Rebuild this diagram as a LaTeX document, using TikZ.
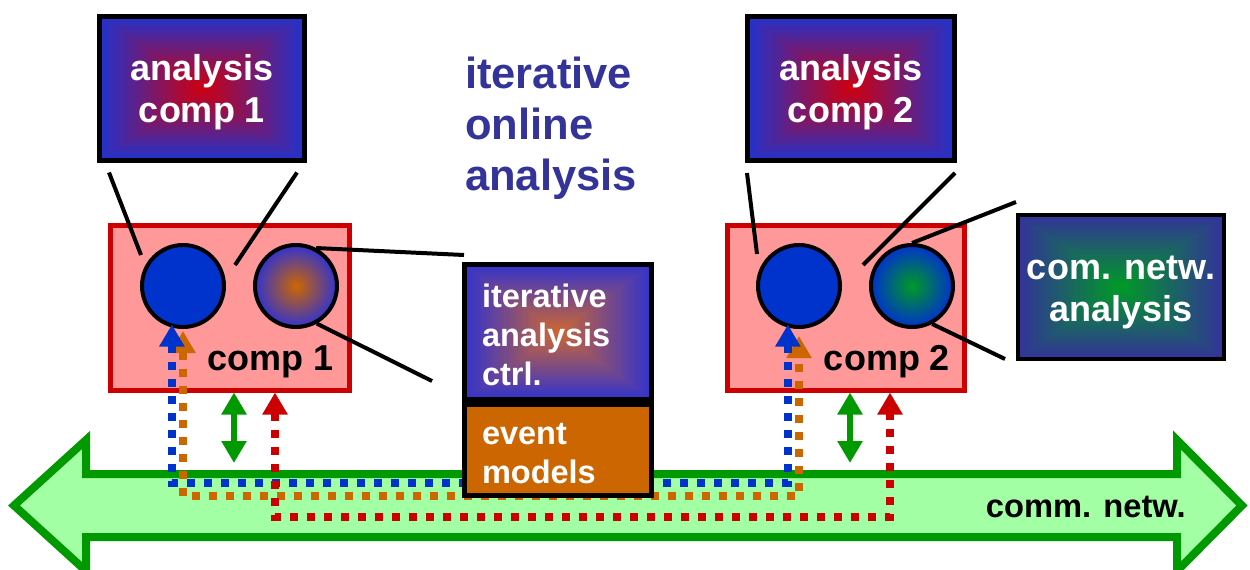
\documentclass[tikz,border=0pt]{standalone}
\usepackage{fontspec}
\setmainfont{Liberation Sans}
\usetikzlibrary{arrows.meta,calc}

\definecolor{netgreen}{HTML}{009900}
\definecolor{netfill}{HTML}{A3FFA3}
\definecolor{compfill}{HTML}{FF9999}
\definecolor{compred}{HTML}{CC0000}
\definecolor{cblue}{HTML}{0033CC}
\definecolor{gblue}{HTML}{2233CC}
\definecolor{gred}{HTML}{CC0011}
\definecolor{ctrlblue}{HTML}{3333CC}
\definecolor{ctrlorange}{HTML}{CC6633}
\definecolor{corange}{HTML}{CC6600}
\definecolor{cgreen}{HTML}{009926}
\definecolor{navy}{HTML}{333399}

% strut that lowers a text block inside its box
\newcommand{\topstrut}[1]{\rule{0pt}{#1}}

\tikzset{
  bigtri/.tip={Triangle[width=24pt,length=22pt]},
  % rectangular gradient: outer colour #1 at the border, inner colour #2 at the centre
  rectgrad/.style 2 args={path picture={
    \foreach \k in {0,...,39}{
      \pgfmathsetmacro\gradS{1-\k/40}
      \pgfmathsetmacro\gradP{100*\k/39}
      \fill[#2!\gradP!#1]
        ($(path picture bounding box.center)!\gradS!(path picture bounding box.south west)$)
        rectangle
        ($(path picture bounding box.center)!\gradS!(path picture bounding box.north east)$);
    }}},
  anbox/.style={draw=black, line width=5pt, text=white, align=center, inner sep=0pt,
    font=\fontsize{36}{42}\selectfont\bfseries},
  ctrlbox/.style={draw=black, line width=5pt, text=white, align=left, inner sep=0pt,
    text width=152pt, minimum width=187pt, font=\fontsize{32.5}{39}\selectfont\bfseries},
  comp/.style={draw=compred, fill=compfill, line width=5pt, inner sep=0pt},
  complbl/.style={font=\fontsize{36}{42}\selectfont\bfseries, text=black, inner sep=0pt},
  unit/.style={circle, draw=black, line width=4pt, minimum size=82pt, inner sep=0pt},
  heading/.style={font=\fontsize{43.5}{51}\selectfont\bfseries, text=navy, align=left, inner sep=0pt},
  zoomline/.style={line width=4pt, black},
  flow/.style={line width=8pt, dash pattern=on 8pt off 9pt, bigtri-bigtri},
  netlink/.style={netgreen, line width=6pt, bigtri-bigtri},
}

\begin{document}
\begin{tikzpicture}[x=1pt,y=-1pt]
\useasboundingbox (0,0) rectangle (1250,570);

% communication network backbone
\draw[netgreen, fill=netfill, line width=8pt, line join=miter, miter limit=10]
  (14,505.5) -- (86,440) -- (86,474) -- (1177,474) -- (1177,440) -- (1242,505.5)
  -- (1177,571) -- (1177,537) -- (86,537) -- (86,571) -- cycle;
\node[font=\fontsize{32.7}{38}\selectfont\bfseries, inner sep=0pt, anchor=base east]
  (netlbl) at (1186,517) {comm. netw.};

% components
\node[comp, minimum width=239pt, minimum height=165pt] (comp1) at (230,307.5) {};
\node[comp, minimum width=237pt, minimum height=165pt] (comp2) at (846,307.5) {};
\node[complbl, anchor=base] (comp1lbl) at (270.5,370) {comp 1};
\node[complbl, anchor=base] (comp2lbl) at (887,370) {comp 2};

\node[unit, fill=cblue] (c1a) at (183,286) {};
\node[unit, inner color=corange, outer color=ctrlblue] (c1b) at (296,286) {};
\node[unit, fill=cblue] (c2a) at (799,286) {};
\node[unit, inner color=cgreen, outer color=cblue] (c2b) at (912,286) {};

% analysis boxes
\node[anbox, rectgrad={gblue}{gred}, minimum width=205pt, minimum height=144pt]
  (an1) at (202,88) {\topstrut{34pt}analysis\\comp 1};
\node[anbox, rectgrad={gblue}{gred}, minimum width=207pt, minimum height=144pt]
  (an2) at (851,88.5) {\topstrut{34pt}analysis\\comp 2};
\node[anbox, line width=4pt, rectgrad={navy}{cgreen}, minimum width=206pt, minimum height=144pt]
  (cna) at (1121,287) {\topstrut{34pt}com. netw.\\analysis};

\node[heading, anchor=west] (title) at (465,128) {iterative\\online\\analysis};

% pointer lines
\coordinate (p1) at (141,255);
\coordinate (p2) at (235,265);
\coordinate (p3) at (464,255);
\coordinate (p4) at (432,381);
\coordinate (q1) at (757,254);
\coordinate (q2) at (863,265);
\coordinate (q3) at (1016,202);
\coordinate (q4) at (1005,359);
\draw[zoomline] ($(an1.south west)+(12,10)$) -- (p1);
\draw[zoomline] ($(an1.south east)+(-10,10)$) -- (p2);
\draw[zoomline] (c1b.62) -- (p3);
\draw[zoomline] (c1b.299) -- (p4);
\draw[zoomline] ($(an2.south west)+(2,10)$) -- (q1);
\draw[zoomline] ($(an2.south east)+(-2,10)$) -- (q2);
\draw[zoomline] (c2b.north) -- (q3);
\draw[zoomline] (c2b.298) -- (q4);

% direct network links
\coordinate (lk1t) at ($(comp1.south)+(4,0)$);
\coordinate (lk1b) at (234,463);
\coordinate (lk2t) at ($(comp2.south)+(4,0)$);
\coordinate (lk2b) at (850,463);
\draw[netlink] (lk1t) -- (lk1b);
\draw[netlink] (lk2t) -- (lk2b);

% dotted event flows
\coordinate (busB) at (0,483);
\coordinate (busO) at (0,496);
\coordinate (busR) at (0,517);
\coordinate (b1) at ($(c1a.255)+(0,-3)$);
\coordinate (b2) at ($(c2a.255)+(0,-3)$);
\coordinate (o1) at ($(c1a.south)+(0,2)$);
\coordinate (o2) at ($(c2a.south)+(0,7)$);
\coordinate (r1) at ($(comp1.south)+(45,0)$);
\coordinate (r2) at ($(comp2.south)+(44,0)$);
\draw[flow, corange] (o1) |- (busO -| o2) -- (o2);
\draw[flow, cblue] (b1) |- (busB -| b2) -- (b2);
\draw[flow, compred] (r1) |- (busR -| r2) -- (r2);

% iterative analysis controller and event models
\node[ctrlbox, rectgrad={ctrlblue}{ctrlorange}, minimum height=135pt]
  (ctrl) at (558,332) {\topstrut{29.5pt}iterative\\analysis\\ctrl.};
\node[ctrlbox, fill=corange, minimum height=91pt] (events) at (558,450)
  {\topstrut{29pt}event\\models};
\end{tikzpicture}
\end{document}
